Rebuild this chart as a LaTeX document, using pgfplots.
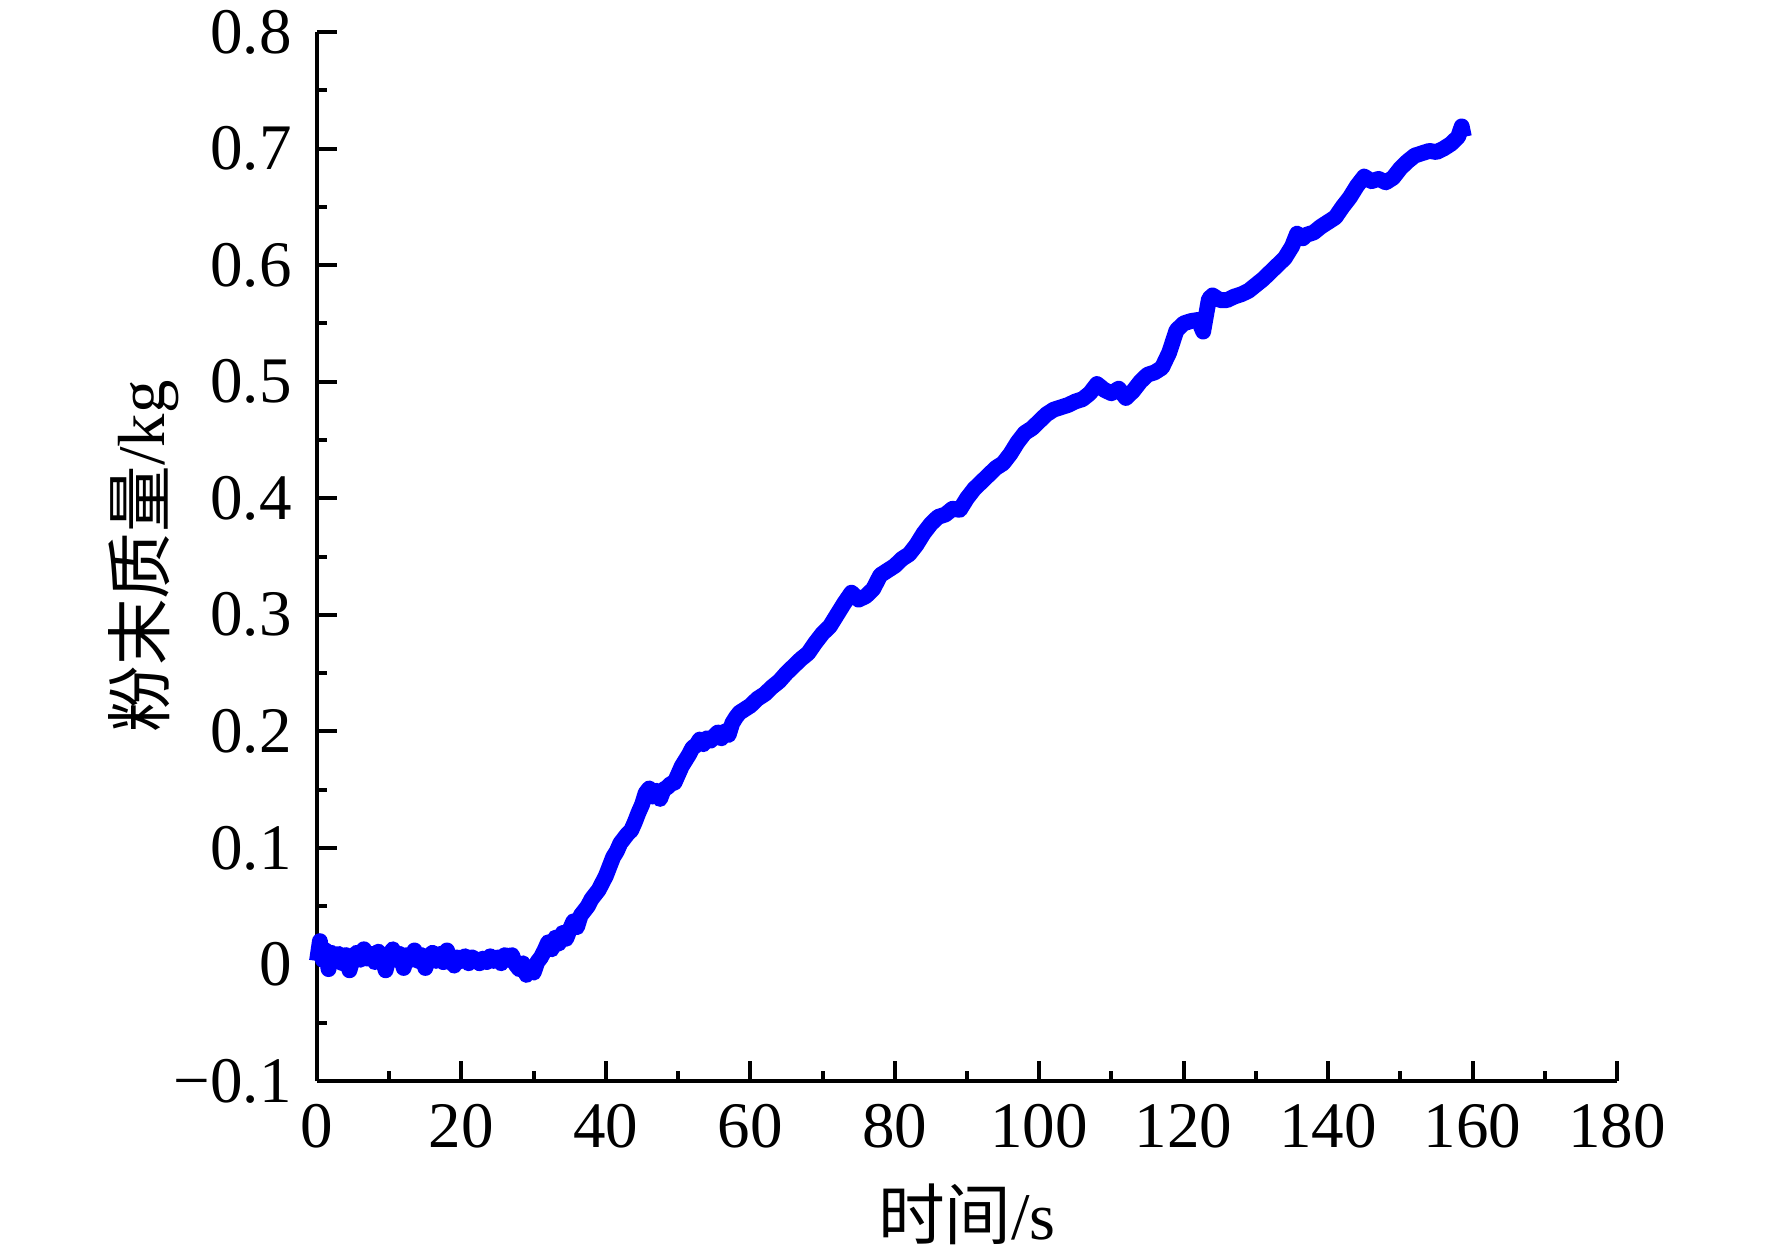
\documentclass[border=0pt]{standalone}
\usepackage{fontspec}
\setmainfont{Liberation Serif}
\newfontfamily\cjk{Noto Sans CJK SC}
\usepackage{pgfplots}
\pgfplotsset{compat=1.18}
\usetikzlibrary{calc}
\definecolor{lineblue}{RGB}{0,0,255}
\begin{document}
\begin{tikzpicture}
\begin{axis}[
  scale only axis, width=312bp, height=251.76bp,
  xmin=0, xmax=180, ymin=-0.1, ymax=0.8,
  axis x line*=bottom, axis y line*=left,
  axis line style={line width=0.96bp, -},
  every tick/.style={black, line width=0.96bp},
  tick align=inside,
  major tick length=4.8bp, minor tick length=2.4bp,
  xtick={0,20,40,60,80,100,120,140,160,180}, minor x tick num=1,
  xticklabels={0,20,40,60,80,100,120,140,160,180},
  ytick={-0.1,0,0.1,0.2,0.3,0.4,0.5,0.6,0.7,0.8}, minor y tick num=1,
  yticklabels={−0.1,0,0.1,0.2,0.3,0.4,0.5,0.6,0.7,0.8},
  tick label style={font=\fontsize{15.6bp}{18bp}\selectfont},
  yticklabel style={xshift=-2.6bp},
  xticklabel style={yshift=-2.0bp},
  xlabel={{\cjk 时间}/s},
  ylabel={{\cjk 粉末质量}/kg},
  xlabel style={at={(axis description cs:0.5,-0.1268)}, anchor=center, font=\fontsize{16bp}{19bp}\selectfont},
  ylabel style={at={(axis description cs:-0.1335,0.5)}, anchor=center, font=\fontsize{16bp}{19bp}\selectfont},
  clip=false,
]
\addplot[color=lineblue, line width=3.8bp, line join=round] table {
t v
0 0.003
0.4 0.020
0.8 0.004
1.2 0.012
1.6 -0.004
2.0 0.010
2.5 0.006
3.0 0.009
3.5 0.001
4.0 0.008
4.5 -0.005
5.0 0.006
5.5 0.010
6.0 0.004
6.5 0.013
7.0 0.005
7.5 0.009
8.0 0.002
8.5 0.011
9.0 0.006
9.5 -0.005
10.0 0.007
10.5 0.013
11 0.004
11.5 0.009
12 -0.003
12.5 0.008
13 0.004
13.5 0.012
14 0.003
14.5 0.008
15 -0.003
15.5 0.007
16 0.010
16.5 0.003
17 0.009
17.5 0.002
18 0.012
18.5 0.004
19 -0.001
19.5 0.006
20 0.003
20.5 0.007
21 0.001
21.5 0.006
22 0.004
22.5 0.001
23 0.005
23.5 0.002
24 0.007
24.5 0.003
25 0.006
25.5 0.001
26 0.008
26.5 0.004
27 0.008
27.5 0.000
28 -0.004
28.5 0.001
29 -0.009
29.5 -0.003
30 -0.007
30.5 0.002
31 0.006
31.5 0.012
32 0.019
32.5 0.013
33 0.023
33.5 0.018
34 0.027
34.5 0.022
35 0.030
35.5 0.037
36 0.032
36.5 0.042
37 0.046
37.5 0.050
38 0.056
38.5 0.060
39 0.064
39.5 0.070
40 0.076
40.5 0.084
41 0.092
41.5 0.097
42 0.104
42.5 0.108
43 0.112
43.5 0.115
44 0.122
44.5 0.130
45 0.137
45.5 0.147
46 0.151
46.5 0.144
47 0.149
47.5 0.142
48 0.150
48.5 0.152
49 0.155
49.5 0.156
50 0.163
50.5 0.170
51 0.175
51.5 0.180
52 0.186
52.5 0.188
53 0.193
53.5 0.189
54 0.194
54.5 0.192
55 0.196
55.5 0.199
56 0.194
56.5 0.200
57 0.197
57.5 0.207
58 0.212
58.5 0.216
59 0.218
60 0.222
61 0.228
62 0.232
63 0.238
64 0.243
65 0.250
66 0.256
67 0.262
68 0.267
69 0.276
70 0.284
71 0.290
72 0.300
73 0.310
74 0.319
75 0.313
76 0.316
77 0.322
78 0.334
79 0.338
80 0.342
81 0.348
82 0.352
83 0.360
84 0.370
85 0.378
86 0.384
87 0.386
88 0.391
89 0.390
90 0.400
91 0.408
92 0.414
93 0.420
94 0.426
95 0.430
96 0.438
97 0.448
98 0.456
99 0.460
100 0.466
101 0.472
102 0.476
103 0.478
104 0.480
105 0.483
106 0.485
107 0.490
108 0.498
109 0.493
110 0.490
111 0.494
112 0.486
113 0.492
114 0.500
115 0.506
116 0.508
117 0.512
118 0.525
119 0.544
120 0.550
121 0.552
122 0.553
122.7 0.543
123.5 0.571
124 0.574
125 0.570
126 0.570
127 0.573
128 0.575
129 0.578
130 0.583
131 0.588
132 0.594
133 0.600
134 0.606
135 0.616
135.7 0.627
136.5 0.623
137 0.626
138 0.628
139 0.633
140 0.637
141 0.641
142 0.650
143 0.658
144 0.668
145 0.676
146 0.672
147 0.674
148 0.671
149 0.675
150 0.683
151 0.689
152 0.694
153 0.696
154 0.698
155 0.697
156 0.700
157 0.704
158 0.710
158.5 0.719
158.8 0.710
};
\end{axis}
\pgfresetboundingbox
\path[use as bounding box] ($(current axis.south west)+(-76.08bp,-42.24bp)$) rectangle ($(current axis.north east)+(37.2bp,7.68bp)$);
\end{tikzpicture}
\end{document}
